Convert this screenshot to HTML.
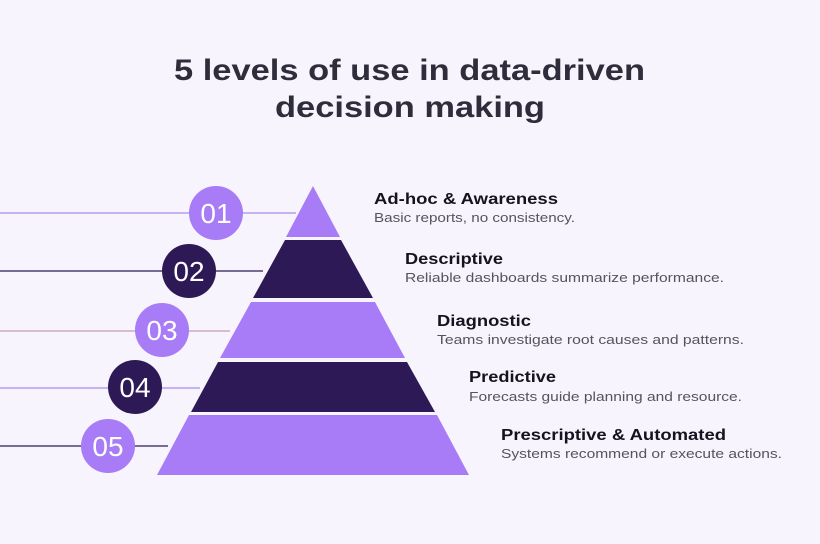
<!DOCTYPE html>
<html><head><meta charset="utf-8"><style>
html,body{margin:0;padding:0;background:#f8f4fd;}
svg{display:block;font-family:"Liberation Sans",sans-serif;}
</style></head><body>
<svg width="820" height="544" viewBox="0 0 820 544">
<rect width="820" height="544" fill="#f8f4fd"/>
<g fill="#2f2d3b" font-weight="bold" font-size="30">
<text x="174" y="80" textLength="471" lengthAdjust="spacingAndGlyphs">5 levels of use in data-driven</text>
<text x="275" y="117" textLength="270" lengthAdjust="spacingAndGlyphs">decision making</text>
</g>
<line x1="0" y1="213" x2="296" y2="213" stroke="#a98cf0" stroke-width="1.3"/>
<line x1="0" y1="271" x2="263" y2="271" stroke="#2d1b55" stroke-width="1.3"/>
<line x1="0" y1="331" x2="230" y2="331" stroke="#c89ab8" stroke-width="1.3"/>
<line x1="0" y1="388" x2="200" y2="388" stroke="#a98cf0" stroke-width="1.3"/>
<line x1="0" y1="446" x2="168" y2="446" stroke="#2d1b55" stroke-width="1.3"/>
<polygon points="313,186 340,237 286,237" fill="#a77cf6"/>
<polygon points="285,240 341,240 373,298 253,298" fill="#2e1957"/>
<polygon points="251,302 375,302 405,358 220,358" fill="#a77cf6"/>
<polygon points="218,362 407,362 435,412 191,412" fill="#2e1957"/>
<polygon points="189,415 437,415 469,475 157,475" fill="#a77cf6"/>
<g font-size="28" fill="#fff" text-anchor="middle">
<circle cx="216" cy="213" r="27" fill="#a77cf6"/><text x="216" y="223">01</text>
<circle cx="189" cy="271" r="27" fill="#2e1957"/><text x="189" y="281">02</text>
<circle cx="162" cy="330" r="27" fill="#a77cf6"/><text x="162" y="340">03</text>
<circle cx="135" cy="387" r="27" fill="#2e1957"/><text x="135" y="397">04</text>
<circle cx="108" cy="446" r="27" fill="#a77cf6"/><text x="108" y="456">05</text>
</g>
<g font-weight="bold" font-size="16" fill="#15131f">
<text x="374" y="204" textLength="184" lengthAdjust="spacingAndGlyphs">Ad-hoc &amp; Awareness</text>
<text x="405" y="264" textLength="98" lengthAdjust="spacingAndGlyphs">Descriptive</text>
<text x="437" y="326" textLength="94" lengthAdjust="spacingAndGlyphs">Diagnostic</text>
<text x="469" y="382" textLength="87" lengthAdjust="spacingAndGlyphs">Predictive</text>
<text x="501" y="440" textLength="225" lengthAdjust="spacingAndGlyphs">Prescriptive &amp; Automated</text>
</g>
<g font-size="13" fill="#55535e">
<text x="374" y="222" textLength="201" lengthAdjust="spacingAndGlyphs">Basic reports, no consistency.</text>
<text x="405" y="282" textLength="319" lengthAdjust="spacingAndGlyphs">Reliable dashboards summarize performance.</text>
<text x="437" y="344" textLength="307" lengthAdjust="spacingAndGlyphs">Teams investigate root causes and patterns.</text>
<text x="469" y="401" textLength="273" lengthAdjust="spacingAndGlyphs">Forecasts guide planning and resource.</text>
<text x="501" y="458" textLength="281" lengthAdjust="spacingAndGlyphs">Systems recommend or execute actions.</text>
</g>
</svg>
</body></html>
